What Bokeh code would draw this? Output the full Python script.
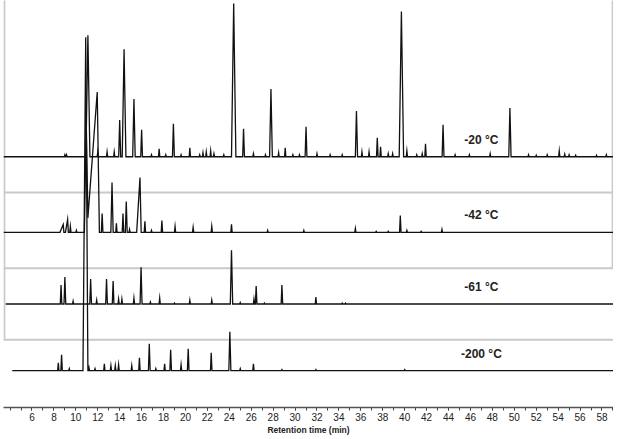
from bokeh.plotting import figure
from bokeh.models import Range1d, FixedTicker, ColumnDataSource
from bokeh.embed import file_html
from bokeh.resources import INLINE
from bokeh.core.properties import value

# ---------------- data ----------------
temps = ["-20 °C", "-42 °C", "-61 °C", "-200 °C"]
offsets = [252, 176, 104, 37]          # vertical stacking offset of each trace
trace_start = [3.4, 3.4, 3.6, 4.2]     # first retention time of each recorded trace
trace_end = 59.1

rt_20 = [9.0, 9.15, 11.1, 12.0, 12.85, 13.5, 14.0, 14.4, 15.3, 16.0, 16.9, 17.6, 18.2, 18.9, 19.6,
         20.4, 21.3, 21.6, 21.9, 22.3, 22.6, 23.5, 24.4, 25.3, 26.2, 27.3, 27.8, 28.5, 29.1, 29.8,
         30.4, 31.0, 32.0, 33.2, 34.3, 35.6, 36.1, 36.75, 37.5, 37.8, 38.5, 38.9, 39.7, 40.2, 41.1,
         41.6, 41.9, 43.5, 44.6, 45.9, 47.8, 49.6, 51.3, 52.0, 53.0, 54.1, 54.6, 55.0, 55.6, 57.5, 58.4]
h_20 = [2, 2, 122, 5, 5, 5, 37, 108, 58, 27, 2, 8, 2, 33, 2,
        9, 2, 4, 5, 6, 3, 2, 154, 28, 3, 2, 68, 4, 9, 2,
        2, 30, 3, 2, 2, 46, 5, 5, 19, 10, 3, 3, 146, 6, 2,
        3, 13, 32, 2, 2, 3, 49, 2, 1.5, 2, 6, 2.5, 2, 1.5, 1.5, 2]

rt_42 = [8.85, 9.25, 9.5, 10.05, 10.95, 11.95, 12.4, 13.3, 13.7, 14.3, 14.6, 14.9, 15.85, 16.3,
         16.9, 17.85, 19.05, 20.7, 22.4, 24.2, 27.5, 30.8, 35.5, 37.4, 38.5, 39.6, 40.2, 41.5, 43.4]
h_42 = [8, 13, 6, 2, 110, 141, 19, 50, 9, 19, 31, 3, 55, 11,
        2, 12, 6, 5, 6, 8, 2, 2, 4, 1, 1, 17, 2, 1, 3]

rt_61 = [8.65, 9.0, 9.75, 11.35, 11.9, 12.8, 13.4, 13.9, 14.2, 15.3, 15.95, 16.8, 17.65, 19.0,
         20.4, 22.4, 24.2, 25.0, 26.25, 26.45, 27.2, 28.8, 31.9, 34.3, 34.6]
h_61 = [19, 27, 3, 25, 4, 25, 23, 5, 5, 6, 37, 2, 6, 1,
        4, 4, 54, 1.5, 5, 18, 1, 19, 7, 1, 1]

rt_200 = [8.4, 8.7, 9.4, 10.9, 11.2, 11.75, 12.6, 13.2, 13.6, 13.9, 15.1, 15.8, 16.7, 17.3,
          18.1, 18.65, 19.6, 20.25, 22.35, 24.05, 25.0, 26.2, 28.8, 31.9, 40.0]
h_200 = [8, 16, 2, 335, 3, 2, 7, 5, 5, 6, 5, 13, 27, 2,
         7, 21, 6, 22, 18, 39, 2, 7, 1, 1, 1]

# peaks with a fronting (slow rising) left flank: retention time -> left flank length (min)
fronting = [{}, {11.95: 0.95, 15.85: 0.3, 8.85: 0.3, 9.25: 0.2}, {}, {10.9: 0.25}]

panel_rules = [216, 140, 68]           # grey frames of the original stacked panels
tick_values = list(range(6, 59, 2))

peaks = [(rt_20, h_20), (rt_42, h_42), (rt_61, h_61), (rt_200, h_200)]

# ---------------- figure ----------------
p = figure(width=613, height=437, output_backend="svg", toolbar_location=None,
           x_range=Range1d(3.4, 59.05), y_range=Range1d(0, 409),
           min_border_left=3, min_border_right=0, min_border_top=0)
p.outline_line_color = None
p.background_fill_color = "white"
p.border_fill_color = "white"
p.grid.visible = False
p.yaxis.visible = False

# grey panel frames
g = "#c9c9c9"
p.segment(x0=[3.4] * len(panel_rules), x1=[59.1] * len(panel_rules), y0=panel_rules, y1=panel_rules,
          line_color=g, line_width=2)
p.segment(x0=[3.48, 58.97], x1=[3.48, 58.97], y0=[panel_rules[2], panel_rules[1]], y1=[412, 412],
          line_color=g, line_width=2)


def trace_xy(start, end, rts, hs, front, base):
    xs, ys = [start], [0.0]
    prev = None
    for t, h in sorted(zip(rts, hs)):
        w = min(0.05 + 0.0011 * h, 0.2)
        wl = front.get(t, w)
        placed = False
        if prev is not None:
            pt, ph, pw = prev
            if t - wl < pt + pw:
                x = (ph + ph * pt / pw - h + h * t / wl) / (h / wl + ph / pw)
                y = ph - ph / pw * (x - pt)
                xs[-1], ys[-1] = x, max(y, 0)
                placed = True
        if not placed:
            xs.append(t - wl); ys.append(0.0)
        xs.append(t); ys.append(h)
        xs.append(t + w); ys.append(0.0)
        prev = (t, h, w)
    xs.append(end); ys.append(0.0)
    return xs, [v + base for v in ys]


for i in range(4):
    rts, hs = peaks[i]
    xs, ys = trace_xy(trace_start[i], trace_end, rts, hs, fronting[i], offsets[i])
    p.line(xs, ys, line_color="#111111", line_width=1.3, line_join="miter")

src = ColumnDataSource(dict(x=[47.0] * 4, y=[o + 17 for o in offsets], t=temps))
p.text(x="x", y="y", text="t", source=src, text_align="center", text_baseline="middle",
       text_font=value("Liberation Sans"), text_font_style="bold", text_font_size="12px",
       text_color="#222222")

ax = p.xaxis[0]
ax.ticker = FixedTicker(ticks=tick_values, minor_ticks=list(range(4, 60)))
ax.axis_line_color = "#555555"
ax.axis_line_width = 1.5
ax.major_tick_out = 3
ax.major_tick_in = 0
ax.minor_tick_out = 3
ax.minor_tick_in = 0
ax.major_tick_line_color = "#444444"
ax.minor_tick_line_color = "#444444"
ax.major_label_text_font = "Liberation Sans"
ax.major_label_text_font_size = "10px"
ax.major_label_text_color = "#222222"
ax.major_label_standoff = 2
ax.axis_label = "Retention time (min)"
ax.axis_label_text_font = "Liberation Sans Narrow, Liberation Sans"
ax.axis_label_text_font_size = "8.5px"
ax.axis_label_text_font_style = "bold"
ax.axis_label_text_color = "#222222"
ax.axis_label_standoff = 1

open("out.html", "w").write(file_html(p, INLINE))
